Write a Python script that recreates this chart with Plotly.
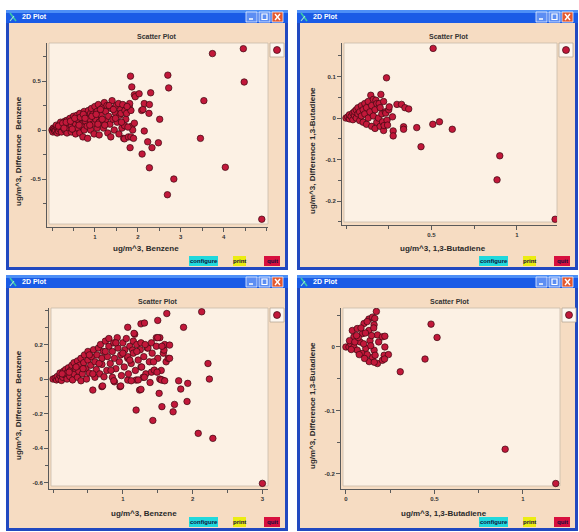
import plotly.graph_objects as go

W, H = 579, 532

# ---------------- data ----------------
benzene_a = [
    (0.00, 0.00), (0.02, -0.02), (0.03, 0.02), (0.05, 0.01), (0.06, -0.01), (0.08, 0.00), (0.10, 0.03),
    (0.12, -0.03), (0.10, 0.05), (0.14, 0.02), (0.15, -0.01), (0.18, 0.01), (0.20, 0.06), (0.22, -0.02),
    (0.20, 0.08), (0.25, 0.03), (0.27, 0.05), (0.30, 0.00), (0.30, 0.09), (0.32, 0.05), (0.35, -0.03),
    (0.35, 0.10), (0.38, 0.07), (0.40, 0.02), (0.40, 0.07), (0.42, 0.12), (0.45, -0.02), (0.45, 0.04),
    (0.48, 0.09), (0.50, 0.10), (0.50, 0.14), (0.52, 0.00), (0.55, 0.06), (0.55, -0.04), (0.58, 0.15),
    (0.58, 0.11), (0.60, 0.02), (0.62, 0.10), (0.65, 0.17), (0.65, -0.03), (0.68, 0.06), (0.70, 0.13),
    (0.72, -0.07), (0.72, 0.03), (0.75, 0.19), (0.75, 0.00), (0.78, 0.09), (0.80, 0.15), (0.82, 0.04),
    (0.83, -0.085), (0.85, 0.20), (0.85, 0.12), (0.88, 0.11), (0.90, 0.00), (0.90, 0.17), (0.92, 0.22),
    (0.95, 0.06), (0.95, 0.16), (0.98, -0.04), (1.00, 0.24), (1.00, 0.13), (1.02, 0.11), (1.05, 0.02),
    (1.05, 0.19), (1.08, 0.26), (1.10, 0.08), (1.10, -0.05), (1.12, 0.17), (1.15, 0.15), (1.18, 0.23),
    (1.20, 0.02), (1.22, 0.28), (1.25, 0.10), (1.25, 0.19), (1.28, 0.25), (1.30, -0.03), (1.32, 0.14),
    (1.35, 0.06), (1.37, -0.07), (1.38, 0.22), (1.40, 0.30), (1.42, 0.11), (1.45, 0.00), (1.47, 0.18),
    (1.50, 0.25), (1.52, 0.08), (1.55, 0.27), (1.56, -0.04), (1.58, 0.15), (1.60, 0.21), (1.61, 0.17),
    (1.63, 0.02), (1.65, 0.26), (1.67, -0.085), (1.69, 0.045), (1.69, -0.09), (1.70, 0.20), (1.72, 0.11),
    (1.74, 0.17), (1.78, -0.07), (1.80, 0.24), (1.81, 0.27), (1.84, 0.20), (1.84, -0.07), (1.86, 0.04),
    (1.88, 0.00), (1.90, -0.085), (1.92, 0.07), (1.92, 0.36),
    (0.15, 0.04), (0.25, 0.07), (0.28, 0.02), (0.33, 0.08), (0.43, 0.09), (0.47, 0.01), (0.53, 0.12),
    (0.63, 0.05), (0.66, 0.13), (0.73, 0.16), (0.77, 0.12), (0.88, 0.05), (0.93, 0.14), (1.03, 0.16),
    (1.07, 0.06), (1.13, 0.21), (1.17, 0.11), (1.23, 0.05), (1.33, 0.25), (1.43, 0.21), (1.48, 0.12),
    (1.62, 0.08), (1.75, 0.24), (1.77, 0.03),
    (1.83, 0.55), (1.86, 0.44), (1.94, 0.34), (2.03, 0.37), (2.30, 0.38), (2.70, 0.56), (2.72, 0.43),
    (2.09, 0.20), (2.12, 0.21), (2.15, 0.27), (2.27, 0.26), (2.26, 0.17), (2.51, 0.11), (2.15, -0.01),
    (1.82, -0.18), (2.10, -0.245), (2.23, -0.12), (2.33, -0.18), (2.48, -0.13), (2.27, -0.385),
    (2.84, -0.50), (2.69, -0.66), (3.74, 0.78), (4.46, 0.83), (4.48, 0.49), (3.54, 0.30), (3.46, -0.085),
    (4.04, -0.38), (4.89, -0.91),
]

butadiene_a = [
    (0.00, 0.000), (0.01, 0.003), (0.02, -0.002), (0.02, 0.008), (0.03, 0.004), (0.04, 0.012), (0.04, -0.004),
    (0.05, 0.006), (0.05, 0.016), (0.06, 0.000), (0.06, 0.020), (0.07, 0.010), (0.07, 0.025), (0.08, -0.006),
    (0.08, 0.015), (0.09, 0.030), (0.09, 0.005), (0.10, 0.020), (0.10, -0.010), (0.11, 0.035), (0.11, 0.010),
    (0.12, 0.025), (0.12, -0.015), (0.13, 0.040), (0.13, 0.000), (0.14, 0.015), (0.145, 0.055), (0.15, 0.030),
    (0.15, -0.020), (0.16, 0.045), (0.16, 0.005), (0.17, 0.020), (0.175, 0.043), (0.17, -0.025), (0.18, 0.035),
    (0.18, -0.010), (0.19, 0.000), (0.194, 0.035), (0.20, 0.025), (0.20, -0.020), (0.204, 0.057), (0.21, 0.010),
    (0.214, -0.009), (0.22, 0.040), (0.22, -0.030), (0.223, -0.018), (0.23, 0.015), (0.233, 0.012),
    (0.24, -0.005), (0.243, -0.017), (0.25, 0.020), (0.253, 0.027), (0.272, 0.003), (0.276, -0.031),
    (0.276, -0.043), (0.298, 0.033), (0.325, 0.033), (0.345, 0.025), (0.367, 0.022), (0.337, -0.021),
    (0.337, -0.027),
    (0.237, 0.097), (0.414, -0.023), (0.508, -0.015), (0.547, -0.009), (0.622, -0.027), (0.439, -0.069),
    (0.51, 0.168), (0.90, -0.091), (0.884, -0.149), (1.224, -0.244),
]

benzene_b = [
    (0.00, 0.000), (0.03, 0.005), (0.05, -0.005), (0.06, 0.015), (0.08, 0.000), (0.10, 0.020), (0.10, 0.035),
    (0.12, -0.008), (0.14, 0.010), (0.15, 0.045), (0.17, 0.025), (0.18, 0.055), (0.20, 0.000), (0.20, 0.035),
    (0.22, 0.065), (0.24, 0.015), (0.25, 0.050), (0.27, 0.080), (0.28, -0.005), (0.30, 0.030), (0.30, 0.095),
    (0.32, 0.060), (0.35, 0.105), (0.35, 0.010), (0.37, 0.045), (0.38, 0.080), (0.40, 0.120), (0.40, -0.010),
    (0.42, 0.030), (0.44, 0.095), (0.45, 0.140), (0.47, 0.060), (0.48, 0.000), (0.50, 0.160), (0.50, 0.110),
    (0.52, 0.035), (0.54, 0.080), (0.55, 0.130), (0.58, 0.170), (0.60, 0.010), (0.60, 0.100), (0.62, 0.055),
    (0.63, 0.140), (0.65, 0.180), (0.67, 0.030), (0.68, 0.200), (0.70, 0.085), (0.70, 0.120), (0.72, 0.160),
    (0.73, 0.013), (0.75, 0.220), (0.77, 0.050), (0.78, 0.130), (0.80, 0.190), (0.80, 0.235), (0.82, 0.090),
    (0.85, 0.010), (0.85, 0.160), (0.87, 0.210), (0.88, 0.120), (0.88, -0.016), (0.90, 0.060), (0.92, 0.240),
    (0.93, 0.180), (0.95, 0.100), (0.97, 0.140), (0.98, 0.020), (1.00, 0.210), (1.02, 0.070), (1.03, 0.170),
    (1.05, 0.235), (1.07, 0.120), (1.07, 0.130), (1.07, -0.006), (1.08, 0.030), (1.10, 0.190), (1.12, 0.090),
    (1.14, 0.168), (1.15, 0.220), (1.15, 0.150), (1.17, 0.260), (1.18, 0.050), (1.19, -0.006), (1.20, 0.200),
    (1.22, 0.110), (1.25, 0.170), (1.26, 0.210), (1.26, 0.070), (1.27, 0.070), (1.29, 0.010), (1.30, 0.130),
    (1.33, 0.030), (1.35, 0.180), (1.36, 0.180), (1.38, 0.100), (1.41, 0.210), (1.41, 0.040), (1.42, 0.150),
    (1.45, 0.052), (1.48, 0.240), (1.48, 0.190), (1.50, 0.120), (1.53, 0.240), (1.53, 0.000), (1.55, 0.050),
    (1.57, -0.006), (1.58, 0.150), (1.59, 0.168), (1.60, 0.200), (1.62, 0.100), (1.65, 0.120), (1.67, 0.197),
    (0.13, 0.030), (0.23, 0.040), (0.33, 0.070), (0.43, 0.060), (0.52, 0.140), (0.57, 0.030), (0.66, 0.090),
    (0.75, 0.160), (0.83, 0.050), (0.90, 0.210), (1.00, 0.150), (1.10, 0.110), (1.20, 0.160), (1.32, 0.200),
    (1.44, 0.100), (1.56, 0.190),
    (0.57, -0.064), (0.70, -0.044), (0.71, -0.040), (0.87, -0.010), (0.96, -0.044), (0.97, -0.040),
    (1.12, -0.010), (1.22, -0.005), (1.24, -0.064), (1.26, -0.060), (1.31, 0.010), (1.39, -0.020),
    (1.55, -0.005), (1.60, -0.010), (1.49, 0.040), (1.07, 0.300), (1.26, 0.320), (1.31, 0.325),
    (1.16, 0.265), (1.50, 0.340), (1.63, 0.380), (2.13, 0.390), (1.87, 0.300), (1.50, 0.240),
    (1.67, 0.120), (2.22, 0.090), (2.24, 0.000), (1.80, -0.010), (1.93, -0.025), (1.83, -0.058),
    (1.52, -0.083), (1.92, -0.130), (1.74, -0.147), (1.56, -0.160), (1.72, -0.190), (1.19, -0.180),
    (1.43, -0.240), (2.08, -0.315), (2.29, -0.344), (3.00, -0.605),
]

butadiene_b = [
    (0.000, 0.000), (0.017, 0.000), (0.027, 0.005), (0.036, 0.026), (0.045, 0.016), (0.045, 0.000),
    (0.064, 0.029), (0.064, -0.005), (0.080, 0.008), (0.093, 0.021), (0.093, -0.010), (0.102, 0.037),
    (0.112, -0.002), (0.130, 0.044), (0.130, 0.026), (0.131, -0.023), (0.136, 0.010), (0.150, 0.047),
    (0.150, -0.016), (0.159, 0.035), (0.159, -0.005), (0.172, 0.056), (0.178, 0.019), (0.178, -0.026),
    (0.185, 0.008), (0.206, 0.016), (0.206, -0.021), (0.216, -0.013), (0.120, 0.040), (0.157, 0.030),
    (0.163, 0.045), (0.165, -0.013), (0.160, -0.024), (0.220, 0.017), (0.220, 0.000), (0.240, -0.012),
    (0.218, -0.019), (0.020, 0.010), (0.030, -0.004), (0.050, 0.008), (0.070, 0.015), (0.085, 0.030),
    (0.100, 0.005), (0.110, 0.022), (0.120, -0.012), (0.140, 0.002), (0.145, 0.018), (0.060, 0.018),
    (0.075, -0.012), (0.105, -0.018),
    (0.481, 0.036), (0.515, 0.015), (0.447, -0.019), (0.307, -0.039), (0.900, -0.161), (1.186, -0.215),
]

x_titles = ["ug/m^3, Benzene", "ug/m^3, 1,3-Butadiene", "ug/m^3, Benzene", "ug/m^3, 1,3-Butadiene"]
y_titles = ["ug/m^3, Difference  Benzene", "ug/m^3, Difference 1,3-Butadiene",
            "ug/m^3, Difference  Benzene", "ug/m^3, Difference 1,3-Butadiene"]
x_tickvals = [[1, 2, 3, 4], [0.5, 1], [1, 2, 3], [0, 0.5, 1]]
x_ticktext = [["1", "2", "3", "4"], ["0.5", "1"], ["1", "2", "3"], ["0", "0.5", "1"]]
y_tickvals = [[0.5, 0, -0.5], [0.1, 0, -0.1, -0.2], [0.2, 0, -0.2, -0.4, -0.6], [0, -0.1, -0.2]]
y_ticktext = [["0.5", "0", "-0.5"], ["0.1", "0", "-0.1", "-0.2"],
              ["0.2", "0", "-0.2", "-0.4", "-0.6"], ["0", "-0.1", "-0.2"]]
x_ranges = [[-0.117, 5.035], [-0.0235, 1.235], [-0.058, 3.08], [-0.028, 1.21]]
y_ranges = [[-0.969, 0.888], [-0.253, 0.181], [-0.626, 0.412], [-0.2205, 0.0614]]
x_minor = [0.5, 0.25, 0.5, 0.25]
y_minor = [0.25, 0.05, 0.1, 0.05]
series = [benzene_a, butadiene_a, benzene_b, butadiene_b]

# ---------------- layout geometry (pixels) ----------------
windows = [(6, 10, 288, 270), (297, 10, 578, 270), (6, 275, 288, 531), (297, 275, 578, 531)]
plots = [(48, 43, 268, 225), (343, 43, 557, 223), (50, 308, 268, 487), (342, 308, 560, 487)]
xtitle_pos = [(146, 248), (443, 248), (144, 513), (444, 513)]
ytitle_pos = [(18, 151), (312, 151), (18, 405), (312, 406)]

BODY = "#f6dcc2"
PLOTBG = "#fcf1e4"
FRAME = "#2149c0"
BAR = "#1a5be6"
MARK = "#c2183a"
FONT = "Liberation Sans"


def fx(p):
    return p / W


def fy(p):
    return 1 - p / H


fig = go.Figure()
shapes = []
annotations = []
layout_axes = {}


def rect(x0, y0, x1, y1, fill, line=None, lw=0, layer="below"):
    shapes.append(dict(type="rect", xref="paper", yref="paper", x0=fx(x0), x1=fx(x1), y0=fy(y1), y1=fy(y0),
                       fillcolor=fill, line=dict(color=line or fill, width=lw), layer=layer))


def seg(x0, y0, x1, y1, color, lw=1, layer="above"):
    shapes.append(dict(type="line", xref="paper", yref="paper", x0=fx(x0), x1=fx(x1), y0=fy(y0), y1=fy(y1),
                       line=dict(color=color, width=lw), layer=layer))


def text(x, y, s, size, color="#222", xanchor="center", angle=0, bold=True):
    annotations.append(dict(xref="paper", yref="paper", x=fx(x), y=fy(y), text=s, showarrow=False,
                            xanchor=xanchor, yanchor="middle", textangle=angle,
                            font=dict(family=FONT, size=size, color=color, weight="bold" if bold else "normal")))


for i in range(4):
    x0, y0, x1, y1 = windows[i]
    # window frame, title bar and body
    rect(x0, y0, x1, y1, FRAME)
    rect(x0, y0, x1, y0 + 13, BAR)
    rect(x0, y0, x1, y0 + 3, "#4d8ff6")
    rect(x0 + 3, y0 + 13, x1 - 3, y1 - 3, BODY)
    # title icon and text
    seg(x0 + 4, y0 + 3, x0 + 10, y0 + 11, "#38c8a8", 1.6)
    seg(x0 + 4, y0 + 11, x0 + 8, y0 + 6, "#9ee8d8", 1.2)
    text(x0 + 14, y0 + 6.5, "2D Plot", 7, "white", xanchor="left")
    # window control buttons
    bx = [x1 - 42, x1 - 29, x1 - 16]
    cols = ["#5d8ef3", "#5d8ef3", "#e4582e"]
    for b, c in zip(bx, cols):
        rect(b, y0 + 2, b + 11, y0 + 12, c, "#e8f0ff", 0.8, layer="above")
    seg(bx[0] + 3, y0 + 9, bx[0] + 7, y0 + 9, "white", 1.5)
    rect(bx[1] + 3, y0 + 4, bx[1] + 8, y0 + 9.5, "rgba(0,0,0,0)", "white", 1.2, layer="above")
    seg(bx[2] + 3, y0 + 4, bx[2] + 8, y0 + 10, "white", 1.4)
    seg(bx[2] + 8, y0 + 4, bx[2] + 3, y0 + 10, "white", 1.4)

    # plot area
    px0, py0, px1, py1 = plots[i]
    rect(px0 + 1, py0, px1, py1 - 1, PLOTBG, "#c9bba9", 0.8)
    # legend box to the right of the plot area
    rect(px1 + 2, py0, px1 + 16, py0 + 14, "#fdf7f0", "#b8a898", 0.8)
    shapes.append(dict(type="circle", xref="paper", yref="paper", x0=fx(px1 + 5.5), x1=fx(px1 + 12.5),
                       y0=fy(py0 + 10.5), y1=fy(py0 + 3.5), fillcolor=MARK, line=dict(color="#3a0810", width=0.7),
                       layer="above"))

    # titles
    text((px0 + px1) / 2 - 1, py0 - 7, "Scatter Plot", 7, "#333")
    text(xtitle_pos[i][0], xtitle_pos[i][1], x_titles[i], 8, "#2a2a2a")
    text(ytitle_pos[i][0], ytitle_pos[i][1], y_titles[i], 8, "#2a2a2a", angle=-90)

    # buttons
    btns = [("configure", x1 - 99, x1 - 70, "#20d8dc"), ("print", x1 - 55, x1 - 42, "#ecec12"),
            ("quit", x1 - 24, x1 - 8, "#d8103e")]
    for label, b0, b1, c in btns:
        rect(b0, y1 - 14, b1, y1 - 4, c, layer="above")
        text((b0 + b1) / 2, y1 - 9, label, 6, "#101040")

    # data
    xs = [p[0] for p in series[i]]
    ys = [p[1] for p in series[i]]
    sfx = "" if i == 0 else str(i + 1)
    fig.add_trace(go.Scatter(x=xs, y=ys, mode="markers", xaxis="x" + sfx, yaxis="y" + sfx, showlegend=False,
                             marker=dict(size=6.5, color=MARK, line=dict(color="#3a0810", width=0.7)),
                             hoverinfo="skip"))
    axis_common = dict(showgrid=False, zeroline=False, showline=True, linecolor="#5a5a5a", linewidth=1,
                       ticks="outside", ticklen=4, tickcolor="#5a5a5a", tickmode="array",
                       tickfont=dict(family=FONT, size=6, color="#333", weight="bold"), fixedrange=True)
    layout_axes["xaxis" + sfx] = dict(axis_common, domain=[fx(px0 - 1), fx(px1)], range=x_ranges[i],
                                      anchor="y" + sfx, tickvals=x_tickvals[i], ticktext=x_ticktext[i],
                                      minor=dict(ticks="outside", dtick=x_minor[i], tick0=0, ticklen=3,
                                                 tickcolor="#5a5a5a"))
    layout_axes["yaxis" + sfx] = dict(axis_common, domain=[fy(py1 + 2), fy(py0)], range=[
        y_ranges[i][0] - (y_ranges[i][1] - y_ranges[i][0]) * 2 / (py1 - py0), y_ranges[i][1]],
                                      anchor="x" + sfx, tickvals=y_tickvals[i], ticktext=y_ticktext[i],
                                      minor=dict(ticks="outside", dtick=y_minor[i], tick0=0, ticklen=3,
                                                 tickcolor="#5a5a5a"))

fig.update_layout(width=W, height=H, margin=dict(l=0, r=0, t=0, b=0), paper_bgcolor="white",
                  plot_bgcolor="rgba(0,0,0,0)", showlegend=False, shapes=shapes, annotations=annotations,
                  **layout_axes)

fig.write_html("out.html", config={"displayModeBar": False},
               post_script="document.body.style.margin='0px';document.body.style.overflow='hidden';")
